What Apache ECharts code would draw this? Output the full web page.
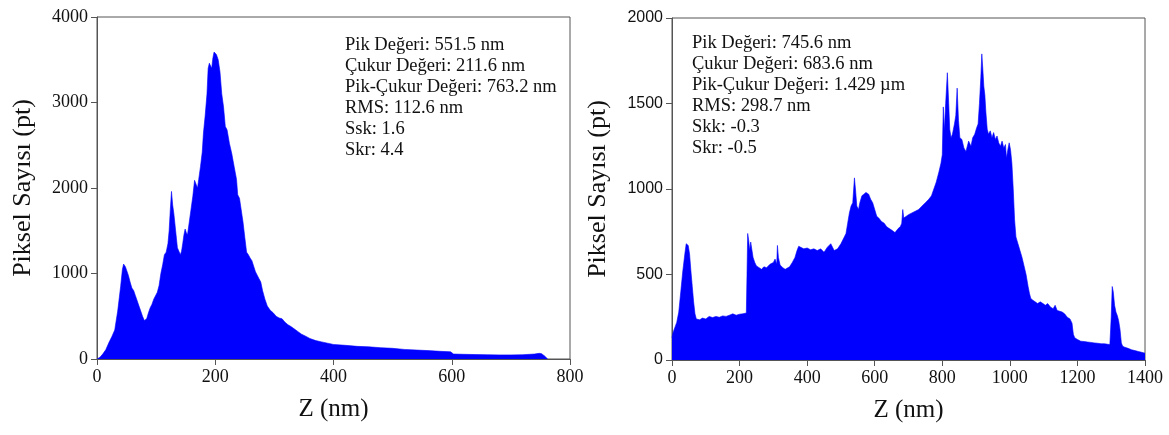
<!DOCTYPE html>
<html>
<head>
<meta charset="utf-8">
<script src="https://cdn.jsdelivr.net/npm/echarts@6/dist/echarts.min.js"></script>
<style>
  html, body { margin: 0; padding: 0; background: #fff; }
  #chart { width: 1169px; height: 435px; }
</style>
</head>
<body>
<div id="chart"></div>
<script>
// sol histogram (Z nm, piksel sayısı)
const zLeft = [0, 5, 10, 15, 20, 25, 30, 35, 40, 43, 45, 48, 50, 53, 56, 59, 62, 65, 68, 71, 74, 77, 80, 82, 84, 87, 90, 93, 96, 99,
  102, 105, 108, 111, 114, 117, 120, 122, 124, 126, 128, 130, 133, 136, 139, 141, 143, 145, 147, 149, 151, 153, 156, 159, 162, 165, 168, 170, 172, 175,
  178, 180, 183, 186, 188, 190, 192, 194, 196, 198, 200, 202, 205, 208, 211, 214, 217, 220, 224, 228, 232, 236, 238, 241, 244, 247, 250, 253, 256, 259,
  262, 265, 268, 271, 274, 277, 280, 284, 288, 293, 298, 303, 308, 313, 318, 323, 328, 334, 340, 346, 352, 360, 370, 380, 390, 400, 420, 440, 460, 480,
  500, 520, 540, 560, 580, 598, 603, 620, 640, 660, 680, 700, 720, 740, 748, 752, 758, 762];
const cLeft = [0, 20, 60, 110, 190, 260, 340, 560, 850, 1050, 1110, 1080, 1060, 980, 900, 830, 800, 740, 680, 620, 560, 500, 450, 430, 470, 540, 600, 640, 700, 720,
  780, 860, 1000, 1100, 1220, 1250, 1350, 1500, 1750, 1960, 1800, 1700, 1500, 1300, 1280, 1220, 1260, 1350, 1450, 1520, 1480, 1450, 1600, 1750, 1900, 2090, 2080, 2000, 2100, 2250,
  2420, 2640, 2850, 3100, 3400, 3460, 3470, 3400, 3520, 3590, 3580, 3560, 3500, 3360, 3100, 2950, 2720, 2680, 2520, 2400, 2250, 2100, 1920, 1880, 1860, 1600, 1420, 1250, 1220, 1180,
  1150, 1160, 1020, 980, 940, 900, 800, 700, 620, 570, 540, 500, 480, 470, 430, 400, 380, 350, 320, 290, 270, 240, 215, 200, 185, 170, 160, 148, 142, 132,
  125, 112, 105, 98, 90, 84, 58, 55, 52, 50, 48, 48, 50, 58, 66, 62, 30, 0];

// sağ histogram
const zRight = [0, 3, 8, 14, 20, 26, 32, 38, 42, 45, 48, 52, 56, 60, 64, 68, 72, 76, 82, 90, 100, 110, 120, 130, 140, 150, 160, 170, 180, 185,
  190, 200, 210, 215, 220, 222, 224, 227, 230, 233, 236, 240, 245, 250, 258, 265, 272, 280, 290, 300, 305, 310, 312, 315, 320, 328, 335, 340, 348, 356,
  364, 370, 375, 380, 390, 400, 410, 420, 430, 440, 450, 460, 470, 480, 490, 500, 510, 515, 520, 525, 530, 535, 540, 543, 547, 552, 556, 562, 568, 574,
  578, 582, 588, 594, 600, 606, 612, 620, 628, 635, 642, 650, 655, 660, 665, 670, 676, 680, 683, 686, 690, 700, 710, 720, 730, 740, 750, 760, 768, 775,
  782, 790, 796, 800, 803, 806, 810, 815, 819, 822, 826, 830, 836, 840, 844, 848, 852, 858, 864, 870, 878, 885, 890, 896, 902, 906, 910, 914, 917, 920,
  923, 926, 929, 933, 937, 942, 947, 952, 957, 962, 967, 972, 977, 982, 987, 990, 994, 998, 1002, 1006, 1010, 1014, 1018, 1024, 1030, 1036, 1042, 1048, 1054, 1058,
  1062, 1068, 1075, 1082, 1090, 1098, 1105, 1112, 1120, 1128, 1134, 1140, 1148, 1155, 1162, 1170, 1178, 1184, 1188, 1192, 1200, 1210, 1220, 1230, 1240, 1250, 1260, 1270, 1280, 1290,
  1296, 1300, 1303, 1306, 1310, 1314, 1318, 1322, 1326, 1330, 1334, 1340, 1350, 1360, 1370, 1380, 1390, 1400];
const cRight = [130, 160, 170, 220, 280, 400, 520, 620, 680, 690, 670, 620, 520, 430, 340, 270, 240, 250, 235, 245, 240, 255, 248, 255, 250, 258, 255, 262, 270, 278,
  262, 268, 270, 272, 275, 500, 740, 700, 640, 690, 650, 600, 570, 550, 540, 530, 545, 540, 560, 570, 590, 560, 670, 600, 555, 540, 530, 520, 545, 570,
  600, 640, 665, 660, 650, 655, 645, 650, 640, 650, 630, 660, 680, 640, 650, 680, 720, 740, 800, 860, 900, 920, 1065, 1000, 900, 880, 920, 960, 970, 980,
  990, 970, 940, 920, 880, 840, 830, 810, 800, 780, 770, 760, 760, 745, 745, 770, 780, 800, 880, 830, 840, 850, 860, 870, 880, 900, 920, 940, 960, 1000,
  1040, 1100, 1150, 1200, 1480, 1340, 1500, 1680, 1500, 1350, 1300, 1320, 1380, 1430, 1590, 1400, 1300, 1290, 1240, 1220, 1280, 1250, 1300, 1320, 1360, 1380, 1500, 1650, 1790, 1700,
  1600, 1550, 1450, 1350, 1320, 1340, 1300, 1330, 1290, 1310, 1270, 1250, 1280, 1240, 1260, 1180, 1230, 1270, 1230, 1150, 1000, 820, 720, 680, 640, 600, 550, 500, 430, 390,
  360, 350, 340, 330, 340, 330, 320, 330, 310, 300, 320, 290, 285, 280, 270, 250, 240, 215, 150, 130, 120, 110, 108, 105, 103, 100, 98, 95, 95, 92,
  90, 250, 430, 400, 320, 280, 260, 230, 180, 100, 80, 75, 68, 60, 55, 50, 45, 40];

const textLeft = ['Pik Değeri: 551.5 nm', 'Çukur Değeri: 211.6 nm', 'Pik-Çukur Değeri: 763.2 nm', 'RMS: 112.6 nm', 'Ssk: 1.6', 'Skr: 4.4'];
const textRight = ['Pik Değeri: 745.6 nm', 'Çukur Değeri: 683.6 nm', 'Pik-Çukur Değeri: 1.429 µm', 'RMS: 298.7 nm', 'Skk: -0.3', 'Skr: -0.5'];

const SERIF = '"Liberation Serif", "Times New Roman", serif';
const SANS = '"Liberation Sans", Arial, sans-serif';
const AXIS_COLOR = '#555';

function pairs(xs, ys) {
    return xs.map((x, i) => [x, ys[i]]);
}

// binlik ayırıcı olmadan
function plain(v) {
    return String(v);
}

function xAxisOf(gridIndex, max, interval) {
    return {
        type: 'value', gridIndex: gridIndex, min: 0, max: max, interval: interval,
        name: 'Z (nm)', nameLocation: 'middle', nameGap: 38,
        nameTextStyle: { fontFamily: SERIF, fontSize: 25, color: '#111' },
        axisLine: { show: true, lineStyle: { color: AXIS_COLOR, width: 1 } },
        axisTick: { show: true, length: 6, lineStyle: { color: AXIS_COLOR } },
        axisLabel: { fontFamily: SERIF, fontSize: 18, color: '#111', margin: 9, formatter: plain },
        splitLine: { show: false }
    };
}

function yAxisOf(gridIndex, max, interval, font, size) {
    return {
        type: 'value', gridIndex: gridIndex, min: 0, max: max, interval: interval,
        name: 'Piksel Sayısı (pt)', nameLocation: 'middle', nameGap: 61,
        nameTextStyle: { fontFamily: SERIF, fontSize: 26, color: '#111' },
        axisLine: { show: true, lineStyle: { color: AXIS_COLOR, width: 1 } },
        axisTick: { show: true, length: 6, lineStyle: { color: AXIS_COLOR } },
        axisLabel: { fontFamily: font, fontSize: size, color: '#111', margin: 9, formatter: plain },
        splitLine: { show: false }
    };
}

function histSeries(idx, data) {
    return {
        type: 'line', xAxisIndex: idx, yAxisIndex: idx, data: data,
        showSymbol: false, animation: false,
        lineStyle: { color: '#0000ff', width: 0.6 },
        areaStyle: { color: '#0000ff', opacity: 1 }
    };
}

function noteText(left, top, lines) {
    return {
        type: 'text', left: left, top: top,
        style: { text: lines.join('\n'), font: '18.5px ' + SERIF, lineHeight: 21, fill: '#111' }
    };
}

const chart = echarts.init(document.getElementById('chart'));
chart.setOption({
    backgroundColor: '#fff',
    animation: false,
    grid: [
        { left: 97, right: 599, top: 17, bottom: 76, show: true, borderColor: AXIS_COLOR, borderWidth: 1 },
        { left: 672, right: 24, top: 18, bottom: 75, show: true, borderColor: AXIS_COLOR, borderWidth: 1 }
    ],
    xAxis: [xAxisOf(0, 800, 200), xAxisOf(1, 1400, 200)],
    yAxis: [yAxisOf(0, 4000, 1000, SERIF, 18), yAxisOf(1, 2000, 500, SANS, 16)],
    series: [histSeries(0, pairs(zLeft, cLeft)), histSeries(1, pairs(zRight, cRight))],
    graphic: [noteText(345, 35, textLeft), noteText(692, 33, textRight)]
});
</script>
</body>
</html>
